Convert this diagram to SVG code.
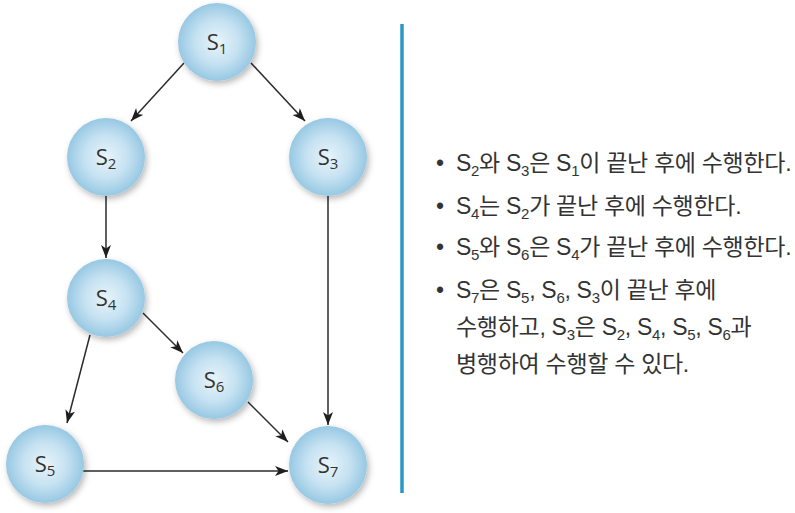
<svg xmlns="http://www.w3.org/2000/svg" width="795" height="513" viewBox="0 0 795 513">
<style>
.lbl{font-family:"Open Sans","Liberation Sans",sans-serif;font-size:22px;fill:#333;text-anchor:middle}
.sub{font-size:15px}
.edge{stroke:#2b2b2b;stroke-width:1.5;fill:none;marker-end:url(#arr)}
.t{font-family:"Liberation Sans","Noto Sans CJK KR",sans-serif;font-size:23px;fill:#333;letter-spacing:-0.3px}
.ts{font-family:"Liberation Sans","Noto Sans CJK KR",sans-serif;font-size:15px;fill:#333}
</style>
<defs>
<radialGradient id="g" cx="0.5" cy="0.5" r="0.5">
<stop offset="0" stop-color="#e8f4fa"/>
<stop offset="0.55" stop-color="#c6e2f2"/>
<stop offset="1" stop-color="#97c8e3"/>
</radialGradient>
<filter id="sh" x="-30%" y="-30%" width="160%" height="160%">
<feDropShadow dx="2" dy="3" stdDeviation="3" flood-color="#000" flood-opacity="0.28"/>
</filter>
<marker id="arr" markerWidth="14" markerHeight="12" refX="13" refY="5" orient="auto" markerUnits="userSpaceOnUse">
<path d="M0,0 L13,5 L0,10 L3.5,5 z" fill="#1e1e1e"/>
</marker>
</defs>
<rect width="795" height="513" fill="#fff"/>
<g id="connectors">
<line class="edge" x1="184" y1="63" x2="131" y2="121"/>
<line class="edge" x1="251" y1="63" x2="305" y2="121"/>
<line class="edge" x1="106" y1="196" x2="106" y2="258"/>
<line class="edge" x1="328" y1="196" x2="328" y2="425"/>
<line class="edge" x1="143" y1="313" x2="183" y2="353"/>
<line class="edge" x1="90" y1="335" x2="67" y2="423"/>
<line class="edge" x1="248" y1="402" x2="288" y2="442"/>
<line class="edge" x1="83" y1="471" x2="288" y2="471"/>
</g>
<g id="S1"><circle cx="217" cy="42" r="39" fill="url(#g)" filter="url(#sh)"/><text class="lbl" x="217" y="50">S<tspan class="sub" dy="4">1</tspan></text></g>
<g id="S2"><circle cx="106" cy="157" r="39" fill="url(#g)" filter="url(#sh)"/><text class="lbl" x="106" y="165">S<tspan class="sub" dy="4">2</tspan></text></g>
<g id="S3"><circle cx="328" cy="157" r="39" fill="url(#g)" filter="url(#sh)"/><text class="lbl" x="328" y="165">S<tspan class="sub" dy="4">3</tspan></text></g>
<g id="S4"><circle cx="106" cy="298" r="39" fill="url(#g)" filter="url(#sh)"/><text class="lbl" x="106" y="306">S<tspan class="sub" dy="4">4</tspan></text></g>
<g id="S6"><circle cx="214" cy="380" r="39" fill="url(#g)" filter="url(#sh)"/><text class="lbl" x="214" y="388">S<tspan class="sub" dy="4">6</tspan></text></g>
<g id="S5"><circle cx="45" cy="464" r="39" fill="url(#g)" filter="url(#sh)"/><text class="lbl" x="45" y="472">S<tspan class="sub" dy="4">5</tspan></text></g>
<g id="S7"><circle cx="328" cy="465" r="39" fill="url(#g)" filter="url(#sh)"/><text class="lbl" x="328" y="473">S<tspan class="sub" dy="4">7</tspan></text></g>
<line x1="402" y1="24" x2="402" y2="493" stroke="#2a97c6" stroke-width="3.5"/>
<g id="notes">
<text class="t" x="436" y="171">•</text>
<text class="t" x="456" y="171">S<tspan class="ts" dy="5">2</tspan><tspan dy="-5">와 S</tspan><tspan class="ts" dy="5">3</tspan><tspan dy="-5">은 S</tspan><tspan class="ts" dy="5">1</tspan><tspan dy="-5">이 끝난 후에 수행한다.</tspan></text>
<text class="t" x="436" y="214">•</text>
<text class="t" x="456" y="214">S<tspan class="ts" dy="5">4</tspan><tspan dy="-5">는 S</tspan><tspan class="ts" dy="5">2</tspan><tspan dy="-5">가 끝난 후에 수행한다.</tspan></text>
<text class="t" x="436" y="255">•</text>
<text class="t" x="456" y="255">S<tspan class="ts" dy="5">5</tspan><tspan dy="-5">와 S</tspan><tspan class="ts" dy="5">6</tspan><tspan dy="-5">은 S</tspan><tspan class="ts" dy="5">4</tspan><tspan dy="-5">가 끝난 후에 수행한다.</tspan></text>
<text class="t" x="436" y="298">•</text>
<text class="t" x="456" y="298">S<tspan class="ts" dy="5">7</tspan><tspan dy="-5">은 S</tspan><tspan class="ts" dy="5">5</tspan><tspan dy="-5">, S</tspan><tspan class="ts" dy="5">6</tspan><tspan dy="-5">, S</tspan><tspan class="ts" dy="5">3</tspan><tspan dy="-5">이 끝난 후에</tspan></text>
<text class="t" x="456" y="335">수행하고, S<tspan class="ts" dy="5">3</tspan><tspan dy="-5">은 S</tspan><tspan class="ts" dy="5">2</tspan><tspan dy="-5">, S</tspan><tspan class="ts" dy="5">4</tspan><tspan dy="-5">, S</tspan><tspan class="ts" dy="5">5</tspan><tspan dy="-5">, S</tspan><tspan class="ts" dy="5">6</tspan><tspan dy="-5">과</tspan></text>
<text class="t" x="456" y="372">병행하여 수행할 수 있다.</text>
</g>
</svg>
